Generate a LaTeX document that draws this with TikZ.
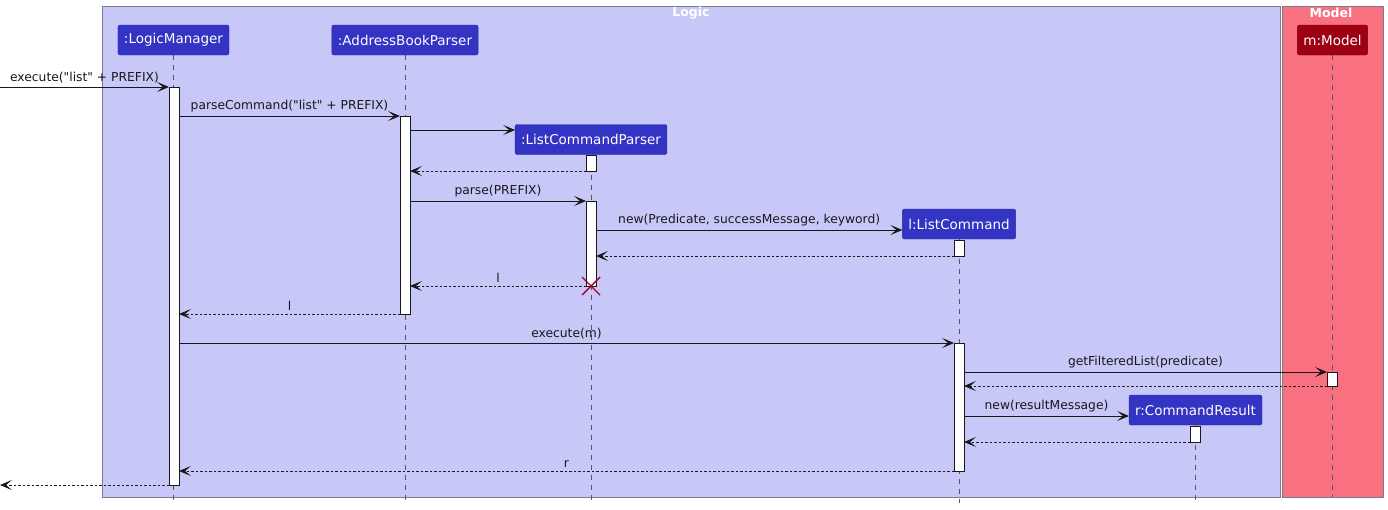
\documentclass[tikz,border=0pt]{standalone}
\usepackage{fontspec}
\setmainfont{DejaVu Sans}
\newfontfamily\dvplain{DejaVu Sans}
\usetikzlibrary{arrows.meta}
\newcommand{\qt}{{\dvplain\symbol{34}}}
\definecolor{logicbg}{HTML}{C8C8F8}
\definecolor{modelbg}{HTML}{F97181}
\definecolor{framec}{HTML}{7A7A8A}
\definecolor{partbg}{HTML}{3333C4}
\definecolor{partbd}{HTML}{2A2A9A}
\definecolor{modelpart}{HTML}{9D0012}
\definecolor{modelbd}{HTML}{7A0010}
\definecolor{linec}{HTML}{181818}
\definecolor{lifec}{HTML}{555566}
\definecolor{destroyc}{HTML}{A80036}
\tikzset{
  part/.style={draw=partbd, fill=partbg, text=white, rounded corners=2pt, minimum height=30pt, inner xsep=6pt, outer sep=0pt, font=\fontsize{13.5}{15}\selectfont},
  mpart/.style={part, draw=modelbd, fill=modelpart},
  life/.style={draw=lifec, dash pattern=on 5pt off 5pt, line width=0.6pt},
  act/.style={draw=linec, fill=white, minimum width=10pt, inner sep=0pt, outer sep=0pt, line width=0.8pt},
  msg/.style={draw=linec, line width=0.8pt, -{Stealth[length=12pt,width=10pt,inset=6pt]}},
  ret/.style={msg, dash pattern=on 2.5pt off 2pt},
  lbl/.style={anchor=south, inner sep=1.5pt, yshift=2pt, font=\fontsize{12.3}{14}\selectfont, text=linec},
  boxtitle/.style={text=white, font=\bfseries\fontsize{12.5}{14}\selectfont}
}
\begin{document}
\begin{tikzpicture}[x=1pt,y=-1pt]
\useasboundingbox (0,0) rectangle (1388,509);
% group boxes
\draw[framec, fill=logicbg, line width=0.8pt] (102,6) rectangle (1280,497);
\draw[framec, fill=modelbg, line width=0.8pt] (1282,6) rectangle (1383,497);
\node[boxtitle] (tlogic) at (691,13) {Logic};
\node[boxtitle] (tmodel) at (1331,13) {Model};
% participants
\node[part] (lm) at (173.5,40) {:LogicManager};
\node[part] (abp) at (405,40) {:AddressBookParser};
\node[part] (lcp) at (591,139.5) {:ListCommandParser};
\node[part] (lc) at (959,224) {l:ListCommand};
\node[part] (cr) at (1195.5,410) {r:CommandResult};
\node[mpart] (m) at (1332.5,40) {m:Model};
% lifelines
\draw[life] (lm.south) -- (lm.south |- 0,503);
\draw[life] (abp.south) -- (abp.south |- 0,503);
\draw[life] (lcp.south) -- (lcp.south |- 0,503);
\draw[life] (lc.south) -- (lc.south |- 0,503);
\draw[life] (cr.south) -- (cr.south |- 0,503);
\draw[life] (m.south) -- (m.south |- 0,497);
% activations
\node[act, minimum height=398pt] (alm) at (174,286) {};
\node[act, minimum height=198pt] (aabp) at (405,215) {};
\node[act, minimum height=16pt] (alcp1) at (591,163) {};
\node[act, minimum height=85pt] (alcp2) at (591,243.5) {};
\node[act, minimum height=16pt] (alc1) at (959,248) {};
\node[act, minimum height=128pt] (alc2) at (959,407) {};
\node[act, minimum height=14pt] (am) at (1332,379) {};
\node[act, minimum height=16pt] (acr) at (1195,434) {};
% free ends
\coordinate (in) at (0,87);
\coordinate (out) at (0,485);
% messages
\draw[msg] (in) -- (alm.north west) node[lbl, midway] {execute(\qt list\qt\ + PREFIX)};
\draw[msg] (alm.east |- 0,116) -- (aabp.north west) node[lbl, midway] {parseCommand(\qt list\qt\ + PREFIX)};
\draw[msg] (aabp.east |- 0,130) -- (lcp.west |- 0,130);
\draw[ret] (alcp1.south west) -- (aabp.east |- 0,171);
\draw[msg] (aabp.east |- 0,201) -- (alcp2.north west) node[lbl, midway] {parse(PREFIX)};
\draw[msg] (alcp2.east |- 0,230) -- (lc.west |- 0,230) node[lbl, midway] {new(Predicate, successMessage, keyword)};
\draw[ret] (alc1.south west) -- (alcp2.east |- 0,256);
\draw[ret] (alcp2.south west) -- (aabp.east |- 0,286) node[lbl, midway] {l};
\draw[ret] (aabp.south west) -- (alm.east |- 0,314) node[lbl, midway] {l};
\draw[msg] (alm.east |- 0,343) -- (alc2.north west) node[lbl, midway] {execute(m)};
\draw[msg] (alc2.east |- 0,372) -- (am.north west) node[lbl, midway] {getFilteredList(predicate)};
\draw[ret] (am.south west) -- (alc2.east |- 0,386);
\draw[msg] (alc2.east |- 0,416) -- (cr.west |- 0,416) node[lbl, midway] {new(resultMessage)};
\draw[ret] (acr.south west) -- (alc2.east |- 0,442);
\draw[ret] (alc2.south west) -- (alm.east |- 0,471) node[lbl, midway] {r};
\draw[ret] (alm.south west) -- (out);
% destroy
\coordinate (dx) at (591,286);
\draw[destroyc, line width=1.4pt] ([shift={(-9,-9)}]dx) -- ([shift={(9,9)}]dx) ([shift={(-9,9)}]dx) -- ([shift={(9,-9)}]dx);
\end{tikzpicture}
\end{document}
